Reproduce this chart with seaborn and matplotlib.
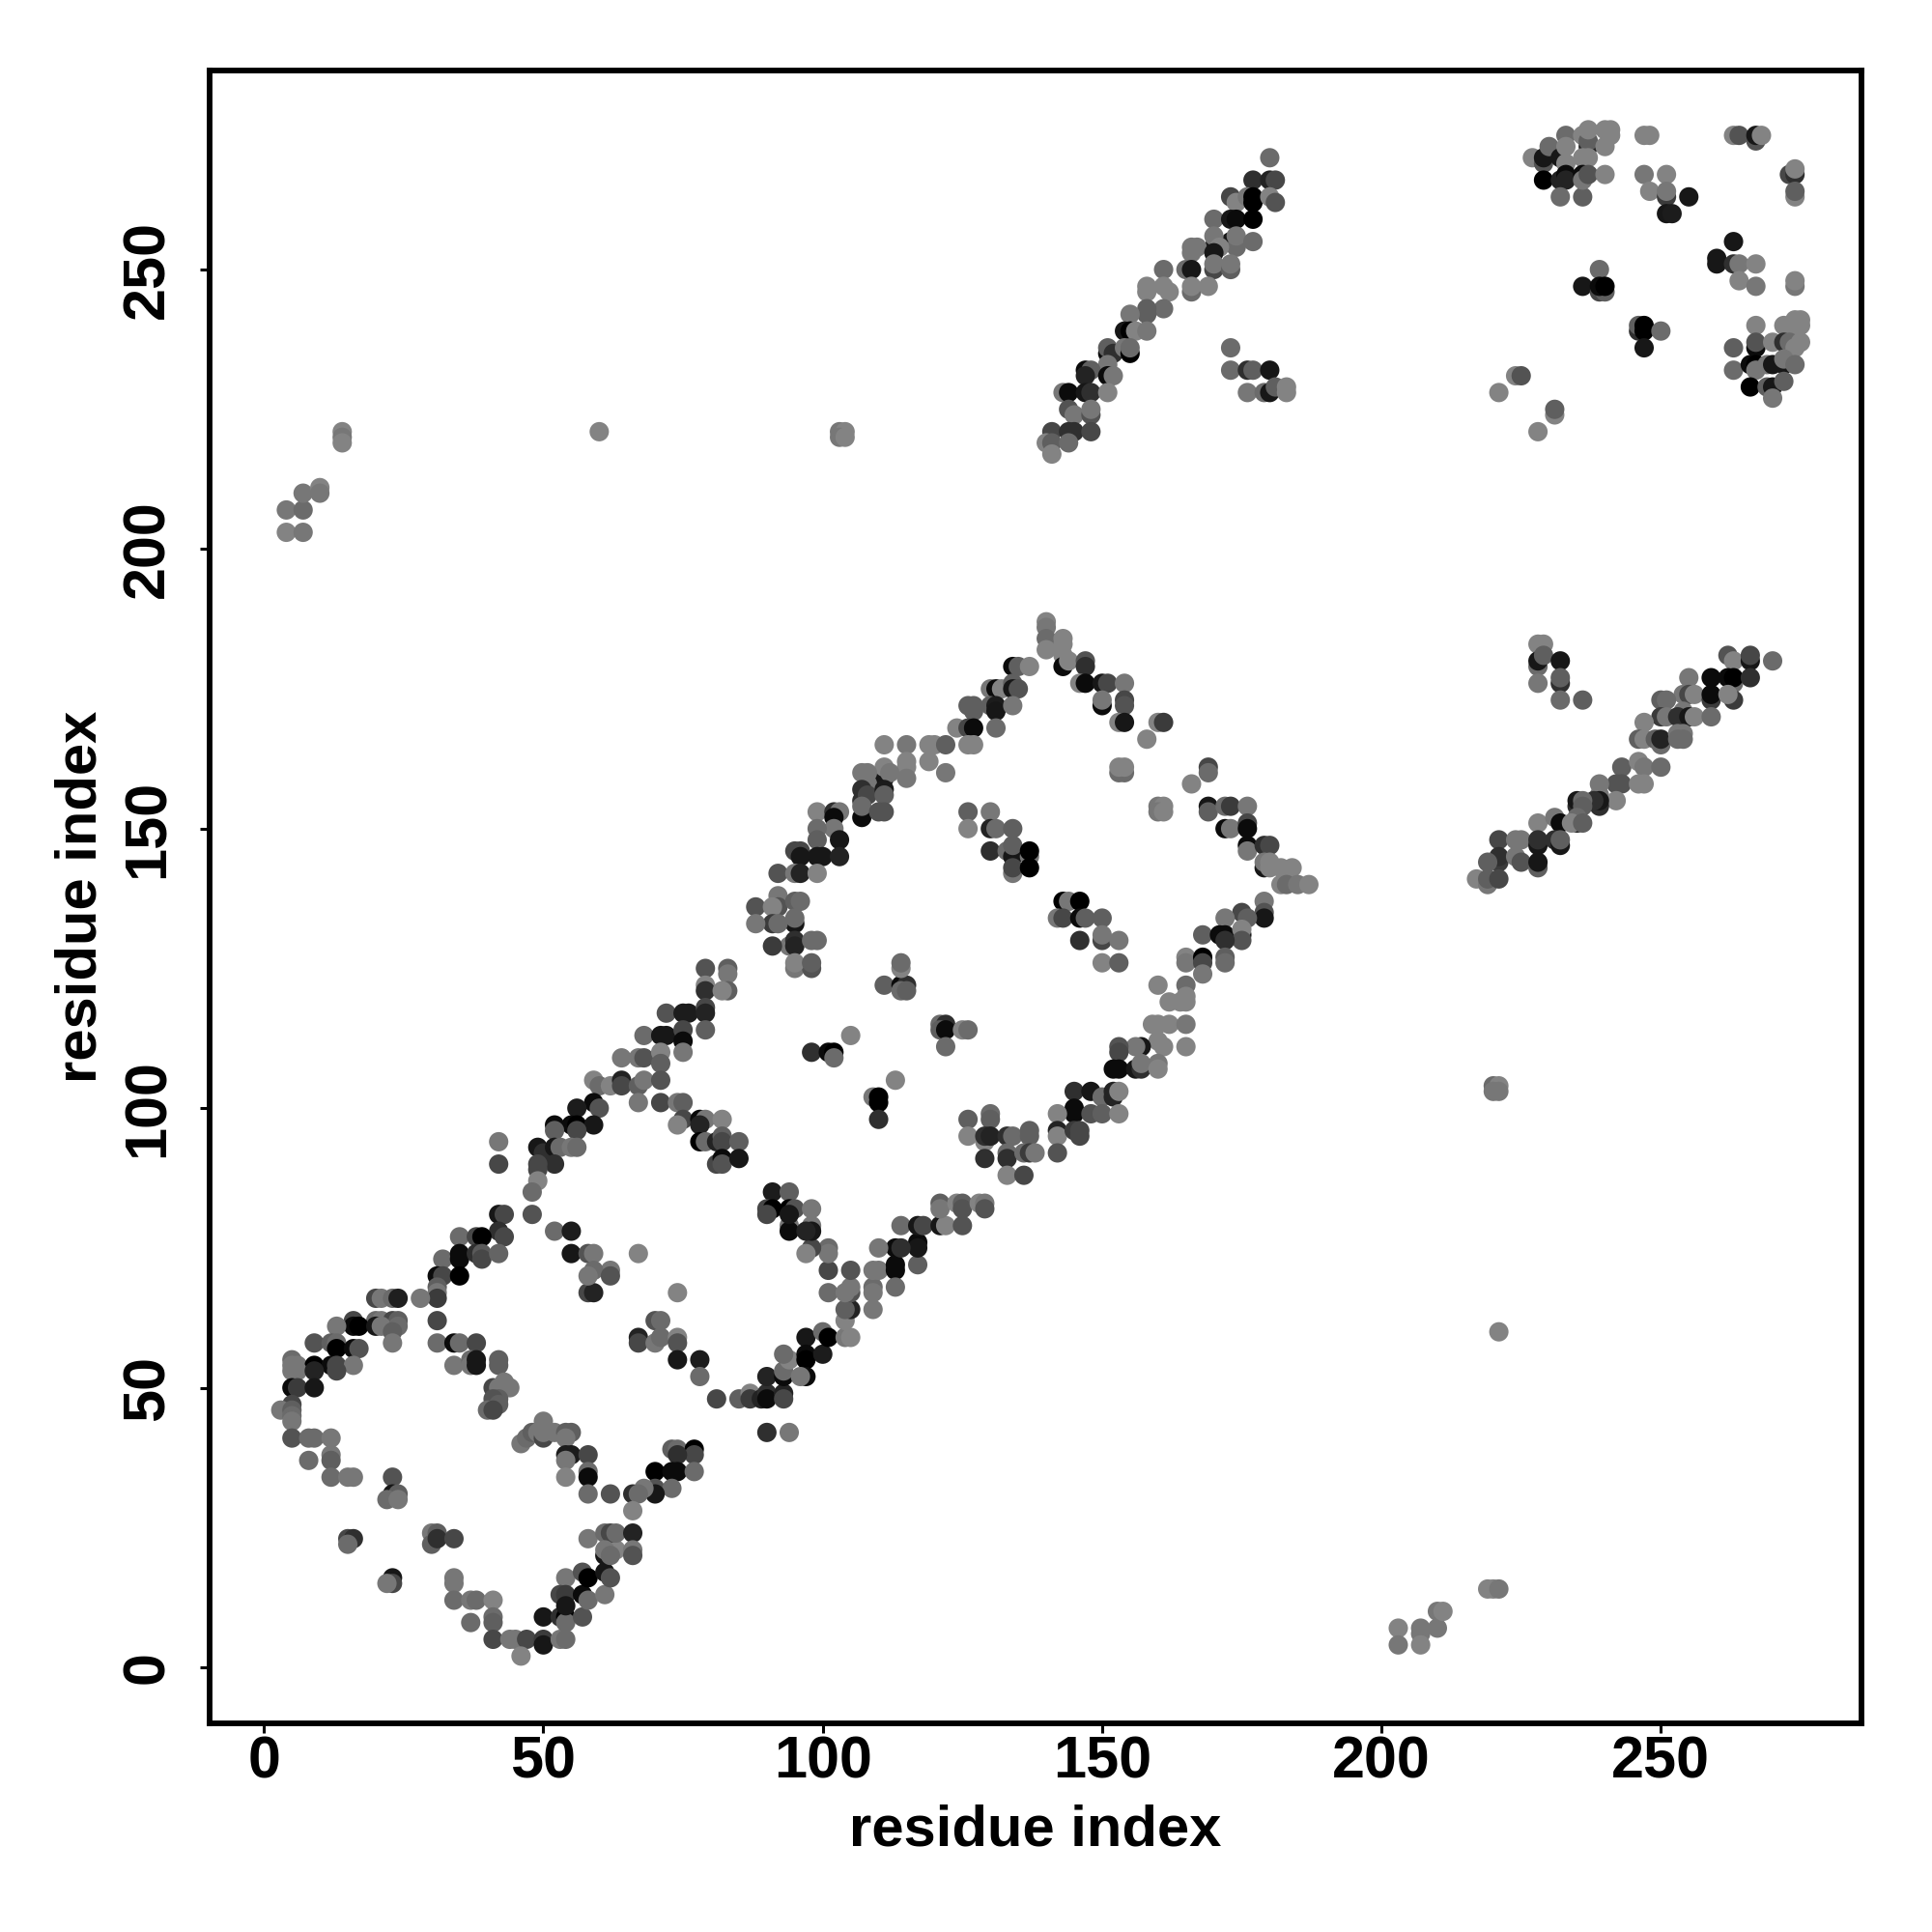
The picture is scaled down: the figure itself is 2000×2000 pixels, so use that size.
import matplotlib
matplotlib.use('Agg')
import matplotlib.pyplot as plt
import pandas as pd
import seaborn as sns

# residue x, residue y, grey level of the point
ring_low = [
    (42,81,.1),(43,81,.3),(48,81,.35),(52,78,.45),(55,78,.12),(42,78,.2),(35,77,.45),(38,77,.3),(39,77,.0),(43,77,.3),
    (32,73,.45),(35,74,.05),(35,73,.05),(38,74,.2),(39,74,.38),(39,73,.3),(42,74,.42),(55,74,.1),(58,74,.35),(59,74,.5),(67,74,.55),
    (31,70,.05),(32,70,.3),(35,70,.0),(31,68,.4),(31,67,.5),(31,66,.25),(28,66,.5),(20,66,.3),(21,66,.5),(23,66,.45),(24,66,.13),(31,62,.3),
    (16,62,.3),(20,62,.45),(21,62,.5),(23,62,.3),(24,62,.4),(16,61,.05),(17,61,.0),(20,61,.1),(21,61,.5),(13,61,.5),(24,61,.45),(23,60,.4),
    (9,58,.35),(12,58,.4),(13,58,.45),(23,58,.5),(31,58,.45),(34,58,.05),(35,58,.45),(38,58,.3),(13,57,.0),(16,57,.05),(17,57,.35),
    (5,55,.45),(5,54,.5),(6,54,.5),(9,54,.0),(12,54,.05),(13,54,.3),(16,54,.5),(34,54,.5),(37,55,.45),(37,54,.5),(38,55,.1),(38,54,.1),(42,55,.4),(42,54,.4),
    (5,53,.5),(6,53,.5),(9,53,.15),(13,53,.3),(5,50,.05),(6,50,.25),(9,50,.1),(41,50,.3),(42,50,.5),(43,51,.5),(44,50,.5),(42,48,.4),(41,48,.35),
    (5,47,.3),(42,47,.4),(3,46,.5),(5,46,.4),(40,46,.45),(41,46,.3),(5,45,.45),(5,44,.5),
    (5,41,.35),(8,41,.45),(9,41,.45),(12,41,.5),(12,38,.5),(12,37,.4),(8,37,.45),(12,34,.45),(15,34,.5),(16,34,.5),
    (23,34,.35),(23,31,.1),(24,31,.4),(22,30,.45),(24,30,.5),(15,23,.3),(16,23,.2),(15,22,.45),
    (30,24,.5),(31,24,.4),(30,22,.4),(31,23,.2),(34,23,.3),(23,16,.1),(23,15,.3),(22,15,.5),
    (34,16,.5),(34,15,.5),(34,12,.45),(37,12,.5),(38,12,.45),(41,12,.55),(37,8,.45),(41,9,.45),(41,8,.4),(41,5,.3),(44,5,.5),(45,5,.5),(47,5,.3),(46,2,.55),
    (50,9,.1),(50,5,.25),(50,4,.1),(53,5,.5),(54,5,.45),(53,9,.2),(54,9,.0),(54,8,.45),(57,9,.35),(54,16,.5),(53,13,.3),(54,13,.25),(54,11,.1),
    (57,13,.05),(58,12,.45),(61,13,.5),(57,17,.35),(58,16,.0),(61,17,.1),(62,16,.35),(61,20,.1),(63,21,.55),(58,23,.5),(61,24,.45),(62,24,.3),(63,24,.45),(66,24,.15),
    (61,21,.5),(62,20,.45),(66,21,.5),(66,20,.35),(46,40,.5),(47,41,.45),(48,42,.4),(49,42,.5),(50,41,.3),(50,42,.5),(50,44,.5),(52,42,.5),(54,42,.4),(55,42,.4),(54,41,.5),
    (54,38,.12),(55,38,.12),(58,38,.3),(54,37,.5),(58,35,.45),(58,34,.05),(54,34,.55),(58,31,.45),(62,31,.35),
    (73,39,.4),(74,39,.45),(77,39,.0),(77,38,.3),(74,38,.2),(70,35,.0),(73,35,.05),(74,35,.05),(77,35,.45),(70,32,.35),(73,32,.45),(70,31,.1),(68,32,.5),(66,31,.2),(67,31,.45),(66,28,.55),
]

ring_middle = [
    (79,125,.35),(83,125,.4),(83,124,.5),(79,122,.55),(79,121,.2),(83,121,.4),(82,121,.55),(72,117,.35),(75,117,.12),(76,117,.12),(79,118,.3),(79,117,.15),(79,114,.4),
    (68,113,.45),(71,113,.1),(72,113,.1),(75,114,.3),(75,112,.05),(75,110,.5),(64,109,.5),(67,109,.5),(68,109,.35),(71,110,.55),(71,108,.4),
    (59,105,.55),(60,104,.45),(62,104,.55),(64,105,.15),(64,104,.3),(67,104,.4),(68,105,.5),(71,105,.35),(59,101,.05),(60,100,.35),(56,100,.12),(67,101,.5),(71,101,.3),(74,101,.5),(75,101,.4),
    (52,97,.05),(55,97,.05),(56,97,.0),(59,97,.1),(52,96,.4),(56,96,.3),(75,98,.3),(74,97,.55),(78,98,.05),(79,98,.5),(82,98,.55),(78,97,.15),
    (49,93,.1),(50,92,.2),(52,93,.1),(53,93,.45),(55,93,.5),(56,93,.45),(78,94,.0),(79,94,.45),(81,94,.15),(82,95,.4),(82,94,.3),(85,94,.4),
    (52,90,.2),(49,90,.3),(49,89,.3),(49,87,.55),(48,85,.45),(42,94,.5),(42,90,.3),(81,90,.3),(82,91,.05),(82,90,.35),(85,91,.1),
    (58,67,.3),(59,67,.15),(74,67,.55),(62,71,.5),(59,71,.45),(58,70,.5),(62,70,.35),
    (70,62,.35),(71,62,.45),(67,59,.15),(67,58,.3),(70,58,.5),(71,59,.45),(74,59,.55),(74,58,.35),(74,55,.1),(78,55,.12),(78,52,.45),
    (81,48,.3),(85,48,.4),(87,49,.55),(87,48,.25),(89,48,.15),(90,49,.2),(90,48,.05),(93,49,.15),(93,48,.3),(90,52,.15),(93,52,.05),(93,53,.45),(94,55,.55),(93,56,.45),
    (97,59,.1),(97,56,.05),(97,55,.0),(97,52,.05),(96,52,.5),(100,56,.12),(100,60,.45),(101,59,.0),(104,59,.5),(105,59,.55),(104,62,.55),(105,64,.15),(104,64,.4),(105,67,.35),(105,68,.5),
    (109,68,.45),(109,67,.5),(109,64,.5),(101,67,.45),(104,67,.5),(101,71,.3),(105,71,.35),(109,71,.5),(110,71,.5),(113,72,.05),(113,71,.05),(113,68,.45),(117,72,.4),(117,76,.05),(117,75,.1),
    (113,75,.05),(114,75,.2),(110,75,.5),(101,75,.45),(101,74,.5),(98,75,.3),(97,74,.55),(94,79,.5),(94,78,.05),(98,79,.5),(98,78,.1),(97,78,.15),
    (91,85,.12),(94,85,.4),(90,82,.3),(91,82,.0),(90,81,.3),(94,82,.0),(95,82,.35),(98,82,.5),(94,81,.1),
    (114,79,.45),(117,79,.1),(118,79,.3),(121,79,.1),(122,79,.55),(125,79,.35),(121,83,.4),(121,82,.5),(124,83,.55),(125,83,.4),(125,82,.35),(128,83,.55),(129,83,.5),(129,82,.35),
    (90,42,.2),(94,42,.5),(95,125,.5),(98,125,.35),(111,122,.4),(114,122,.05),(115,122,.2),(114,125,.55),(114,126,.45),(114,121,.45),(115,121,.4),
    (121,115,.45),(122,115,.2),(121,114,.4),(122,114,.05),(125,114,.55),(126,114,.45),(122,111,.45),(105,113,.55),(98,110,.2),(101,110,.05),(102,110,.0),(102,109,.45),
    (113,105,.55),(109,102,.5),(110,102,.0),(110,101,.0),(110,98,.2),
]

ring_high = [
    (140,187,.55),(140,186,.5),(140,184,.45),(140,182,.55),(143,184,.55),(143,183,.55),(143,181,.55),(143,179,.05),(144,180,.55),(147,180,.35),(147,179,.2),
    (146,176,.55),(147,176,.05),(150,176,.1),(151,176,.3),(154,176,.5),(150,172,.05),(150,173,.5),(154,173,.3),(154,172,.35),(153,169,.55),(154,169,.1),(160,169,.55),(161,169,.25),(158,166,.55),
    (153,160,.45),(154,160,.45),(153,161,.55),(154,161,.55),(169,161,.3),(169,160,.45),(166,158,.55),(160,154,.5),(161,154,.55),(160,153,.5),(161,153,.55),
    (169,154,.1),(169,153,.4),(172,154,.45),(173,154,.25),(176,154,.5),(172,150,.05),(173,150,.5),(176,151,.3),(176,150,.05),(176,147,.05),(176,146,.5),(179,147,.2),(180,147,.3),
    (179,143,.1),(179,144,.5),(180,144,.55),(180,143,.55),(182,143,.55),(184,143,.55),(182,140,.55),(183,140,.45),(185,140,.5),(187,140,.55),
    (179,137,.5),(179,135,.35),(179,134,.1),(175,135,.3),(176,134,.4),(172,134,.5),(168,131,.4),(171,131,.05),(172,131,.05),(175,131,.1),(175,132,.55),(175,130,.35),(172,130,.2),
    (165,127,.55),(165,126,.5),(168,127,.0),(168,126,.3),(168,124,.5),(172,127,.4),(172,126,.45),(160,122,.55),(165,122,.45),(162,119,.55),(164,119,.55),(165,119,.55),(165,120,.55),
    (159,115,.55),(160,115,.55),(162,115,.55),(165,115,.5),(165,111,.55),(161,111,.55),(160,112,.55),(157,111,.1),(156,111,.5),(153,111,.35),(153,110,.3),
    (152,107,.05),(153,107,.05),(156,107,.1),(157,107,.2),(157,108,.5),(160,108,.5),(160,107,.55),(145,103,.2),(148,103,.1),(150,102,.45),(152,103,.15),(152,102,.15),(153,103,.55),
    (145,100,.05),(145,99,.05),(148,99,.35),(150,99,.4),(153,99,.55),(142,99,.55),(142,96,.15),(142,95,.55),(145,96,.25),(146,96,.3),(146,95,.3),(142,92,.35),
    (126,98,.4),(130,99,.45),(130,98,.4),(126,95,.55),(129,94,.55),(129,95,.2),(130,95,.15),(133,95,.2),(134,95,.45),(137,96,.4),(137,95,.4),(129,91,.2),(133,92,.45),(133,91,.2),
    (136,92,.45),(137,92,.25),(138,92,.5),(133,88,.55),(136,88,.3),
    (134,179,.05),(135,179,.4),(137,179,.55),(130,175,.5),(131,175,.05),(132,175,.55),(134,176,.4),(134,175,.1),(135,175,.35),(126,172,.4),(127,172,.4),(130,172,.4),(131,172,.12),(131,171,.1),(134,172,.5),(127,171,.4),
    (124,168,.55),(126,168,.3),(127,168,.05),(131,168,.45),(111,165,.55),(115,165,.5),(119,165,.55),(120,165,.55),(122,165,.4),(126,165,.55),(127,165,.55),(119,162,.55),(122,160,.5),
    (115,162,.55),(115,161,.55),(115,159,.5),(111,159,.1),(111,161,.55),(112,160,.5),(107,160,.5),(108,160,.5),(108,158,.5),(107,157,.2),(107,155,.2),(108,156,.3),(111,157,.12),(111,156,.4),
    (107,152,.05),(107,154,.45),(110,153,.35),(111,153,.35),(99,153,.55),(102,153,.2),(103,153,.5),(102,152,.05),(102,150,.5),(99,150,.45),(103,148,.1),(99,148,.4),
    (95,146,.3),(96,146,.3),(96,145,.1),(99,145,.1),(100,145,.1),(103,145,.15),(92,142,.35),(95,142,.5),(96,142,.15),(99,142,.55),
    (92,138,.5),(92,136,.35),(88,136,.35),(91,136,.55),(95,137,.4),(96,137,.45),(95,133,.1),(95,134,.45),(91,133,.25),(92,133,.45),(88,133,.5),
    (94,129,.5),(91,129,.25),(95,130,.2),(95,129,.15),(98,130,.45),(99,130,.45),(95,126,.55),(98,126,.4),
    (126,153,.4),(130,153,.5),(126,150,.55),(130,150,.15),(131,150,.45),(134,150,.4),(130,146,.2),(133,146,.45),(134,145,.1),(134,147,.4),(137,145,.5),(137,146,.0),(134,142,.5),(134,143,.3),(137,143,.0),
    (143,137,.0),(144,137,.5),(146,137,.0),(142,134,.5),(143,134,.3),(146,134,.05),(147,134,.4),(150,134,.4),(150,130,.3),(150,131,.5),(146,130,.2),(153,130,.5),(150,126,.55),(153,126,.4),
]

upper_right = [
    (227,270,.55),(229,269,.35),(229,270,.1),(229,266,.0),(230,272,.45),(232,270,.1),(233,274,.45),(233,272,.55),(233,269,.55),(232,266,.15),(233,267,.05),(233,266,.15),(232,263,.45),(236,263,.4),
    (236,274,.55),(237,272,.15),(237,273,.4),(237,275,.55),(236,270,.55),(237,270,.55),(236,267,.05),(236,266,.5),(237,267,.35),(240,272,.55),(240,267,.55),(240,275,.55),(241,275,.55),(241,274,.55),
    (247,274,.55),(248,274,.55),(247,267,.5),(251,267,.55),(248,264,.55),(251,263,.25),(251,264,.5),(255,263,.1),(251,260,.1),(252,260,.12),
    (263,274,.55),(264,274,.35),(267,273,.35),(267,274,.1),(268,274,.55),(273,267,.3),(274,267,.2),(274,268,.55),(274,263,.55),(274,264,.4),
    (263,255,.1),(260,252,.1),(260,251,.1),(263,251,.2),(264,251,.5),(267,251,.55),(264,248,.55),(267,247,.5),(274,247,.5),(274,248,.55),
    (239,250,.45),(236,247,.1),(239,246,.3),(240,246,.4),(239,247,.05),(240,247,.0),(246,239,.2),(246,240,.4),(247,239,.0),(247,240,.0),(250,239,.45),(247,236,.1),
    (224,231,.55),(225,231,.35),(221,228,.55),(231,224,.55),(231,225,.4),(228,221,.55),
    (267,240,.55),(272,240,.55),(274,241,.55),(275,241,.55),(274,240,.55),(275,240,.55),(263,236,.4),(267,236,.05),(267,237,.35),(270,237,.55),(272,237,.2),(273,237,.45),(274,236,.55),(275,237,.55),
    (263,232,.45),(266,233,.05),(267,233,.0),(267,232,.5),(269,233,.5),(270,233,.1),(272,233,.1),(272,234,.5),(274,233,.45),(266,229,.0),(269,229,.4),(270,229,.1),(270,227,.5),(272,230,.4),
]

upper_strand = [
    (180,270,.45),(177,266,.2),(180,266,.15),(181,266,.3),(173,263,.3),(174,262,.55),(176,263,.5),(177,263,.0),(177,262,.0),(180,263,.55),(181,262,.35),(170,259,.45),(173,259,.1),(174,259,.05),(177,259,.0),
    (173,255,.1),(174,254,.45),(170,254,.1),(170,256,.5),(174,256,.5),(177,255,.45),(171,254,.55),(166,254,.5),(167,254,.5),(166,253,.5),(170,253,.1),(165,250,.45),(166,250,.1),(170,250,.3),(170,251,.5),(173,250,.4),(173,251,.5),
    (166,246,.45),(166,247,.55),(169,247,.55),(161,250,.45),(158,246,.55),(158,247,.55),(161,247,.55),(162,246,.55),(161,243,.45),(158,242,.4),(158,243,.4),(155,242,.5),
    (154,239,.1),(155,239,.0),(156,239,.55),(158,239,.5),(151,235,.05),(151,236,.4),(152,235,.2),(154,236,.5),(155,235,.0),(155,236,.45),(151,233,.5),
    (147,232,.05),(148,232,.4),(147,231,.15),(151,231,.05),(152,231,.5),(143,228,.5),(144,228,.05),(147,228,.1),(148,228,.2),(151,228,.55),
    (144,225,.35),(145,224,.5),(148,224,.35),(148,225,.5),(141,221,.3),(144,221,.2),(145,221,.2),(148,221,.3),(140,219,.55),(141,219,.4),(144,219,.45),(141,217,.55),
    (173,236,.45),(173,232,.45),(176,232,.2),(177,232,.4),(180,232,.1),(176,228,.5),(179,228,.45),(180,228,.1),(181,229,.4),(183,229,.55),(183,228,.55),
]

right_strand = [
    (228,183,.55),(229,183,.55),(228,179,.45),(228,180,.1),(229,181,.4),(232,180,.1),(232,176,.2),(232,177,.4),(228,176,.5),(232,173,.45),(236,173,.4),
    (263,176,.45),(262,181,.35),(263,180,.55),(266,180,.1),(266,181,.3),(270,180,.45),(255,177,.5),(259,177,.05),(262,177,.05),(263,177,.0),(266,177,.2),
    (254,174,.5),(255,174,.3),(256,174,.55),(259,173,.25),(259,174,.05),(263,173,.25),(262,174,.55),(250,173,.4),(251,173,.45),(250,170,.25),(251,170,.5),(247,169,.55),
    (254,171,.5),(253,170,.2),(255,170,.1),(256,170,.55),(259,170,.45),(246,166,.4),(247,166,.55),(249,166,.4),(250,165,.45),(250,166,.15),(253,167,.5),(254,167,.5),(253,166,.45),(254,166,.45),
    (243,161,.4),(246,162,.55),(247,161,.5),(250,161,.45),(242,158,.35),(243,158,.35),(246,158,.55),(247,158,.55),(239,158,.5),(239,156,.5),(242,155,.55),(239,154,.2),(239,155,.1),(238,155,.2),
    (235,154,.2),(235,155,.1),(236,155,.45),(236,154,.4),(228,151,.55),(231,152,.5),(232,151,.05),(235,151,.15),(235,152,.45),(234,151,.55),(236,151,.4),
    (221,148,.3),(224,148,.5),(225,148,.5),(228,147,.1),(228,148,.2),(231,148,.2),(232,147,.1),(232,148,.4),(221,144,.25),(221,145,.2),(224,145,.5),(219,144,.4),(225,144,.35),(228,143,.4),(228,144,.1),
    (217,141,.55),(219,140,.5),(219,141,.4),(221,141,.3),
]

isolated = [
    (4,207,.5),(7,207,.45),(4,203,.55),(7,203,.5),(7,210,.5),(10,211,.55),(10,210,.5),(14,221,.55),(14,220,.5),(14,219,.55),(60,221,.55),
    (103,221,.5),(104,221,.55),(103,220,.5),(104,220,.55),(203,7,.55),(203,4,.5),(207,7,.5),(207,6,.5),(207,4,.55),(210,7,.5),(210,10,.5),(211,10,.55),
    (219,14,.55),(220,14,.55),(221,14,.5),(221,60,.55),(220,104,.45),(221,104,.55),(220,103,.5),(221,103,.5),
]

x_ticks = [0, 50, 100, 150, 200, 250]
axis_label = 'residue index'

contacts = pd.DataFrame(ring_low + ring_middle + ring_high + upper_right + upper_strand + right_strand + isolated,
                        columns=['x', 'y', 'grey'])

sns.set_style('white')
plt.rcParams['font.family'] = ['Liberation Sans', 'DejaVu Sans']

fig = plt.figure(figsize=(10, 10), dpi=200)
ax = fig.add_axes([217 / 2000, 1 - 1784 / 2000, 1710 / 2000, 1711 / 2000])
sns.scatterplot(data=contacts, x='x', y='y', hue='grey', palette='gray', hue_norm=(0, 1.07),
                s=52, linewidth=0, legend=False, ax=ax)
ax.set_xlim(-9.73, 285.9)
ax.set_ylim(-10.03, 285.6)
ax.set_xticks(x_ticks)
ax.set_yticks(x_ticks)
ax.tick_params(axis='both', length=3.5, width=1.1, color='black', labelcolor='black',
               bottom=True, left=True, labelsize=22)
ax.tick_params(axis='x', pad=1)
ax.tick_params(axis='y', pad=9)
for lab in ax.get_xticklabels():
    lab.set_fontweight('bold')
for lab in ax.get_yticklabels():
    lab.set_fontweight('bold')
    lab.set_rotation(90)
    lab.set_va('center')
for s in ax.spines.values():
    s.set_linewidth(2.1)
    s.set_color('black')
ax.set_xlabel(axis_label, fontsize=21.5, fontweight='bold', color='black', labelpad=5)
ax.set_ylabel(axis_label, fontsize=21.5, fontweight='bold', color='black', labelpad=5)

fig.savefig('out.png', dpi=200)
